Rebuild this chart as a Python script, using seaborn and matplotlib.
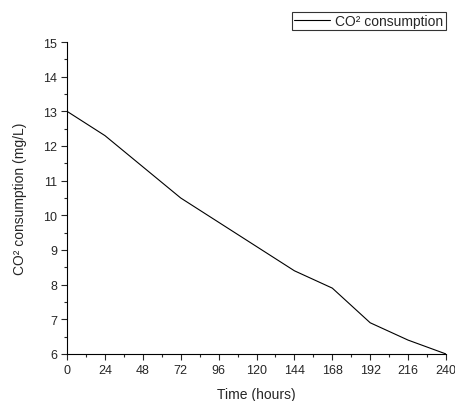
import numpy as np
import pandas as pd
import matplotlib
matplotlib.use("Agg")
import matplotlib.pyplot as plt
import seaborn as sns
from matplotlib.ticker import MultipleLocator

hours = [0, 24, 48, 72, 96, 120, 144, 168, 192, 216, 240]
co2 = [13.0, 12.3, 11.4, 10.5, 9.8, 9.1, 8.4, 7.9, 6.9, 6.4, 6.0]

df = pd.DataFrame({"hours": hours, "co2": co2})

sns.set_style("ticks")
plt.rcParams['font.family'] = ['Liberation Sans', 'DejaVu Sans']
plt.rcParams['font.size'] = 10

fig = plt.figure(figsize=(4.56, 4.02), dpi=100)
ax = fig.add_axes([0.147, 0.117, 0.831, 0.776])

sns.lineplot(data=df, x="hours", y="co2", color="black", linewidth=0.8, ax=ax,
             label="CO² consumption")

ax.set_xlim(0, 240)
ax.set_ylim(6, 15)
ax.xaxis.set_major_locator(MultipleLocator(24))
ax.xaxis.set_minor_locator(MultipleLocator(12))
ax.yaxis.set_major_locator(MultipleLocator(1))
ax.yaxis.set_minor_locator(MultipleLocator(0.5))
ax.tick_params(which="major", length=4, width=0.8, labelsize=9, pad=3)
ax.tick_params(which="minor", length=2, width=0.8)
for s in ["top", "right"]:
    ax.spines[s].set_visible(False)
for s in ["left", "bottom"]:
    ax.spines[s].set_linewidth(0.8)
    ax.spines[s].set_color("black")

ax.set_xlabel("Time (hours)", fontsize=10, labelpad=8)
ax.set_ylabel("CO² consumption (mg/L)", fontsize=10, labelpad=12)

leg = ax.legend(loc="lower right", bbox_to_anchor=(0.999, 1.038), frameon=True,
                fancybox=False, edgecolor="black", fontsize=10,
                handlelength=2.6, borderpad=0.15, handletextpad=0.4, borderaxespad=0)
leg.get_frame().set_linewidth(0.8)

fig.savefig("out.png", dpi=100)
